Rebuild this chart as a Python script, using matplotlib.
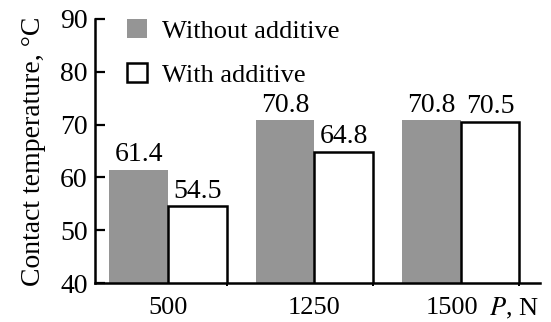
import numpy as np
import matplotlib
matplotlib.use("Agg")
import matplotlib.pyplot as plt
import matplotlib.transforms as mtransforms

loads = ["500", "1250", "1500"]
without_additive = [61.4, 70.8, 70.8]
with_additive = [54.5, 64.8, 70.5]
yticks = [40, 50, 60, 70, 80, 90]

plt.rcParams["font.family"] = ["Liberation Serif", "DejaVu Serif"]
plt.rcParams["mathtext.fontset"] = "stix"

fig = plt.figure(figsize=(5.51, 3.22), dpi=100)
ax = fig.add_axes([0.172, 0.121, 0.808, 0.82])

x = np.arange(len(loads))
w = 0.4
gray = "#959595"

ax.bar(x - w / 2, without_additive, w, color=gray, edgecolor="none",
       label="Without additive")
ax.bar(x + w / 2, with_additive, w, color="white", edgecolor="black", linewidth=1.8,
       label="With additive")

for i in range(len(loads)):
    ax.text(x[i] - w / 2, without_additive[i] + 0.5, f"{without_additive[i]:.1f}",
            ha="center", va="bottom", fontsize=20)
    ax.text(x[i] + w / 2, with_additive[i] + 0.5, f"{with_additive[i]:.1f}",
            ha="center", va="bottom", fontsize=20)

ax.set_ylim(40, 90)
ax.set_xlim(-0.5, 2.54)
ax.set_yticks(yticks)
ax.set_xticks(x)
ax.set_xticklabels(loads, fontsize=19)
ax.set_xticks(x + w, minor=True)
ax.tick_params(axis="y", direction="in", length=7, width=1.6, labelsize=20, pad=5)
ax.tick_params(axis="x", which="major", length=0, pad=10)
ax.tick_params(axis="x", which="minor", direction="out", length=2.5, width=1.4)

# last load label sits a bit left in the original, next to the axis name
lbl = ax.get_xticklabels()[-1]
lbl.set_transform(lbl.get_transform() + mtransforms.ScaledTranslation(-0.09, 0, fig.dpi_scale_trans))

for s in ["top", "right"]:
    ax.spines[s].set_visible(False)
for s in ["left", "bottom"]:
    ax.spines[s].set_linewidth(1.8)

ax.set_ylabel("Contact temperature, °C", fontsize=20, labelpad=10)
ax.text(2.19, -0.095, "$P$, N", transform=ax.get_xaxis_transform(),
        fontsize=19, ha="left", va="center")

ax.legend(loc="upper left", bbox_to_anchor=(0.02, 1.09), frameon=False, fontsize=19,
          handlelength=0.75, handleheight=0.75, handletextpad=0.55, labelspacing=0.75)

fig.savefig("out.png", dpi=100)
